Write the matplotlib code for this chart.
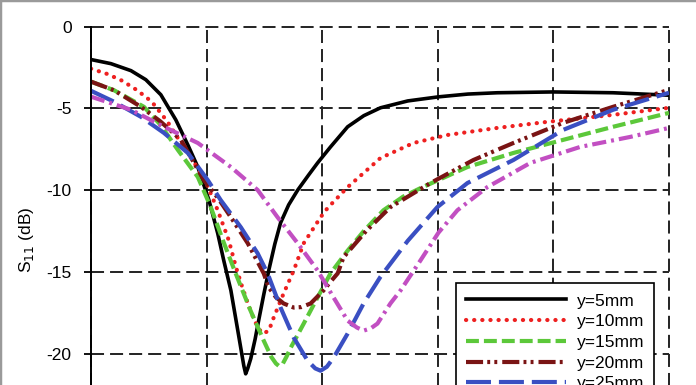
import matplotlib
matplotlib.use("Agg")
import matplotlib.pyplot as plt
from matplotlib.lines import Line2D

plt.rcParams['font.family'] = ['Liberation Sans', 'DejaVu Sans']
plt.rcParams['axes.unicode_minus'] = False

# ---------------- data (frequency in GHz, S11 in dB) ----------------
f_5 = [1.500, 1.586, 1.673, 1.737, 1.802, 1.867, 1.919, 1.962, 2.010, 2.048, 2.074,
       2.105, 2.135, 2.161, 2.169, 2.178, 2.191, 2.210, 2.225, 2.247, 2.269, 2.295,
       2.320, 2.355, 2.394, 2.440, 2.480, 2.536, 2.610, 2.680, 2.752, 2.870, 3.003,
       3.130, 3.257, 3.499, 3.758, 4.000]
s_5 = [-2.02, -2.27, -2.70, -3.25, -4.17, -5.71, -7.24, -8.59, -10.61, -12.64, -14.29,
       -16.13, -18.59, -20.74, -21.23, -20.90, -20.30, -19.10, -17.98, -16.40, -14.90, -13.30,
       -12.00, -10.90, -10.00, -9.10, -8.34, -7.36, -6.13, -5.45, -4.97, -4.55, -4.30,
       -4.13, -4.05, -4.00, -4.05, -4.20]

f_10 = [1.500, 1.570, 1.634, 1.700, 1.763, 1.830, 1.889, 1.940, 1.988, 2.048, 2.096,
        2.126, 2.156, 2.191, 2.221, 2.243, 2.269, 2.290, 2.333, 2.377, 2.420, 2.493,
        2.523, 2.610, 2.752, 2.895, 3.042, 3.257, 3.473, 3.758, 4.000]
s_10 = [-2.58, -2.90, -3.31, -3.90, -4.60, -5.80, -7.12, -8.20, -9.20, -11.23, -13.07,
        -14.66, -16.01, -17.42, -18.40, -18.77, -18.60, -17.80, -16.32, -14.91, -13.25, -11.66,
        -11.10, -9.82, -8.04, -7.12, -6.63, -6.20, -5.83, -5.40, -4.97]

f_15 = [1.500, 1.600, 1.729, 1.800, 1.876, 1.962, 2.018, 2.074, 2.126, 2.191, 2.247,
        2.280, 2.300, 2.312, 2.330, 2.345, 2.364, 2.420, 2.480, 2.536, 2.610, 2.680,
        2.765, 2.850, 2.925, 3.128, 3.327, 3.542, 3.758, 4.000]
s_15 = [-3.37, -3.90, -4.91, -6.00, -7.55, -9.20, -11.04, -13.20, -15.10, -17.40, -19.20,
        -20.20, -20.60, -20.74, -20.60, -20.20, -19.63, -18.16, -16.56, -15.09, -13.70, -12.50,
        -11.23, -10.40, -9.88, -8.59, -7.73, -6.93, -6.13, -5.28]

f_20 = [1.500, 1.600, 1.716, 1.800, 1.889, 1.988, 2.050, 2.105, 2.178, 2.247, 2.269,
        2.300, 2.333, 2.377, 2.410, 2.450, 2.506, 2.530, 2.567, 2.592, 2.690, 2.795,
        2.968, 3.154, 3.327, 3.542, 3.758, 4.000]
s_20 = [-3.37, -3.90, -4.91, -5.80, -6.93, -9.39, -10.50, -11.66, -13.25, -15.09, -15.95,
        -16.55, -16.93, -17.18, -17.15, -16.93, -16.13, -15.70, -15.09, -14.11, -12.50, -11.04,
        -9.57, -8.16, -7.12, -5.89, -4.91, -3.87]

f_25 = [1.500, 1.600, 1.716, 1.815, 1.919, 2.005, 2.061, 2.148, 2.221, 2.264, 2.320,
        2.377, 2.437, 2.470, 2.493, 2.520, 2.549, 2.610, 2.679, 2.752, 2.870, 2.998,
        3.128, 3.327, 3.542, 3.758, 4.000]
s_25 = [-3.93, -4.60, -5.52, -6.50, -7.73, -9.39, -10.61, -12.27, -13.87, -15.10, -17.18,
        -19.02, -20.43, -20.90, -21.04, -20.80, -20.25, -18.77, -16.93, -15.30, -13.10, -11.04,
        -9.57, -8.16, -6.32, -5.09, -4.05]

f_30 = [1.500, 1.673, 1.815, 1.962, 2.105, 2.221, 2.307, 2.394, 2.480, 2.549, 2.610,
        2.650, 2.679, 2.710, 2.739, 2.795, 2.839, 2.925, 3.003, 3.085, 3.214, 3.400,
        3.616, 3.832, 4.000]
s_30 = [-4.29, -5.09, -6.13, -7.12, -8.59, -10.00, -11.66, -13.25, -14.91, -16.56, -17.98,
        -18.40, -18.59, -18.45, -18.16, -16.93, -16.13, -14.30, -12.60, -11.23, -9.82, -8.34,
        -7.36, -6.75, -6.20]

labels = ['y=5mm', 'y=10mm', 'y=15mm', 'y=20mm', 'y=25mm', 'y=30mm']
y_ticks = [0, -5, -10, -15, -20]
x_ticks = [1.5, 2.0, 2.5, 3.0, 3.5, 4.0]

# ---------------- figure ----------------
W, H = 696, 385
fig = plt.figure(figsize=(W / 100, H / 100), dpi=100)
top_px = 26.5
px_per_5 = 81.8
ax_h_px = 5 * px_per_5
ax = fig.add_axes([91 / W, 1 - (top_px + ax_h_px) / H, (669 - 91) / W, ax_h_px / H])
ax.set_xlim(1.5, 4.0)
ax.set_ylim(-25, 0)

lw = 3.0
series = [
    (f_5, s_5, dict(color='black', lw=2.6, linestyle='-')),
    (f_10, s_10, dict(color='#ee2020', lw=lw, linestyle=(0, (0.05, 1.9)),
                      dash_capstyle='round')),
    (f_15, s_15, dict(color='#5cc83a', lw=lw, linestyle=(0, (3.1, 1.2)))),
    (f_20, s_20, dict(color='#7a1414', lw=lw, linestyle=(0, (4.1, 1.0, 0.7, 1.0, 0.7, 1.2)))),
    (f_25, s_25, dict(color='#3a4fc2', lw=lw, linestyle=(0, (6.0, 1.9)))),
    (f_30, s_30, dict(color='#c24fc2', lw=lw, linestyle=(0, (3.4, 1.2, 0.7, 1.2)))),
]
handles = []
for (fx, sy, kw), lab in zip(series, labels):
    ln, = ax.plot(fx, sy, label=lab, zorder=3, solid_joinstyle='round', **kw)
    handles.append(ln)

ax.set_xticks(x_ticks)
ax.set_yticks(y_ticks)
ax.tick_params(axis='x', bottom=False, labelbottom=False)
ax.tick_params(axis='y', direction='out', length=5, width=1.3, pad=9, labelsize=12.5)
ax.grid(True, color='#222222', linestyle=(0, (6.7, 3.1)), linewidth=1.4)
for gl in ax.get_xgridlines() + ax.get_ygridlines():
    gl.set_clip_on(False)
for side in ['top', 'right', 'bottom']:
    ax.spines[side].set_visible(False)
ax.spines['left'].set_linewidth(1.4)
ax.spines['left'].set_zorder(4)

ax.set_ylabel('S$_{11}$ (dB)', fontsize=12.5)
ax.yaxis.set_label_coords(36 / W, 1 - 240 / H, transform=fig.transFigure)

leg = ax.legend(handles=handles, loc='upper left',
                bbox_to_anchor=(456 / W, 1 - 283 / H), bbox_transform=fig.transFigure,
                fontsize=12.5, frameon=True, fancybox=False, framealpha=1,
                edgecolor='black', handlelength=5.76, handletextpad=0.58,
                labelspacing=0.32, borderpad=0.6, borderaxespad=0)
leg.get_frame().set_linewidth(1.2)
leg.set_zorder(5)

# thin grey frame of the original picture (top and left edges)
fig.add_artist(Line2D([0, 1], [1, 1], transform=fig.transFigure, color='#9a9a9a', lw=2.5))
fig.add_artist(Line2D([0, 0], [0, 1], transform=fig.transFigure, color='#9a9a9a', lw=2.5))

fig.savefig('out.png', dpi=100)
